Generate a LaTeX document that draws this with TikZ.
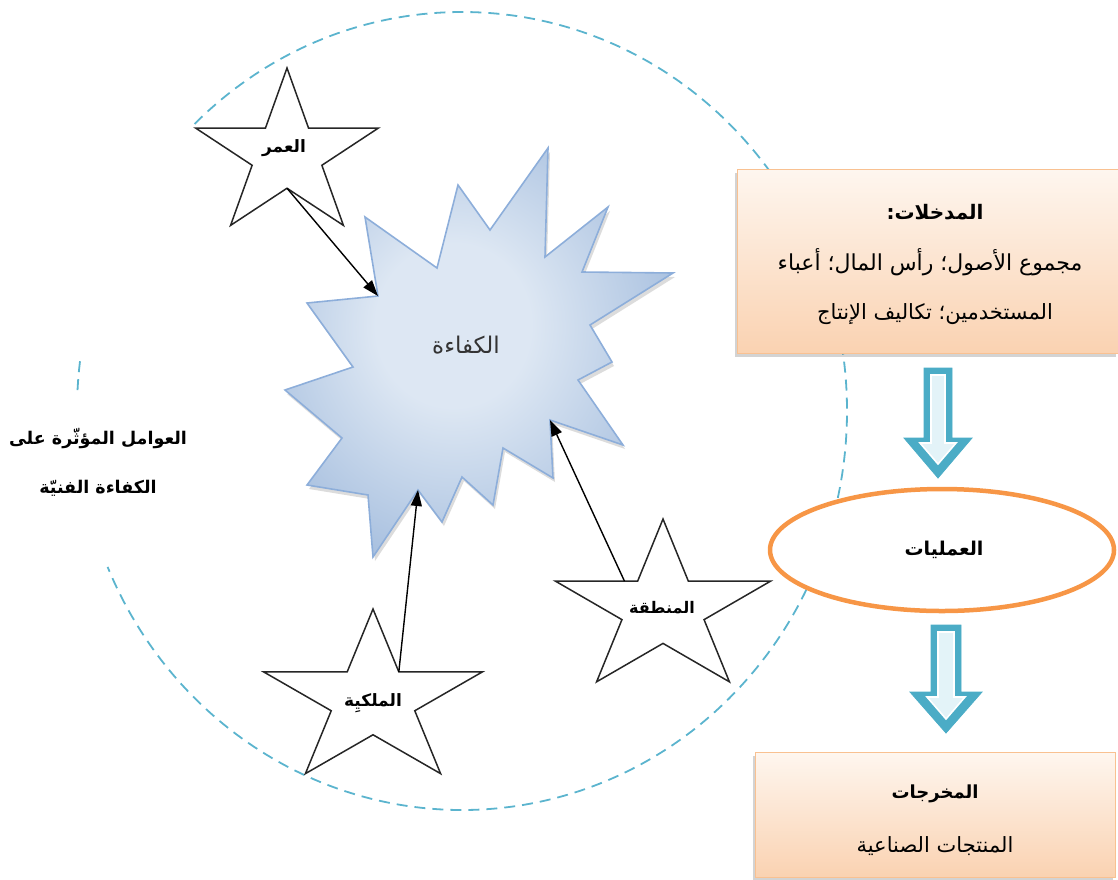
\documentclass[tikz,border=0pt]{standalone}
\usepackage{fontspec}
\usetikzlibrary{arrows.meta,calc,shapes.geometric,shadows}
\newfontfamily\arabicfont[Script=Arabic]{DejaVu Sans}
\TeXXeTstate=1
\newcommand\AR[1]{{\arabicfont\beginR #1\endR}}
\definecolor{tealb}{HTML}{4BACC6}
\definecolor{tealin}{HTML}{E3F3F8}
\definecolor{circc}{HTML}{5BB4CE}
\definecolor{orng}{HTML}{F79646}
\definecolor{boxline}{HTML}{F9C191}
\definecolor{boxtop}{HTML}{FEF6EF}
\definecolor{boxbot}{HTML}{FAD2B1}
\definecolor{burstin}{HTML}{DDE7F3}
\definecolor{burstout}{HTML}{95B2D8}
\definecolor{burstline}{HTML}{8DAEDA}
\pgfdeclareradialshading{burstshade}{\pgfpoint{-4bp}{4bp}}{color(0bp)=(burstin); color(10bp)=(burstin); color(36bp)=(burstout); color(60bp)=(burstout)}
\tikzset{
  circ/.style={draw=circc, line width=1.8pt, dash pattern=on 11pt off 7pt},
  starline/.style={draw=black!85, line width=1.5pt, fill=white, line join=miter},
  link/.style={draw=black, line width=1.4pt, -{Triangle[length=16pt,width=11pt]}},
  boxsty/.style={draw=boxline, line width=1.2pt, top color=boxtop, bottom color=boxbot,
     drop shadow={shadow xshift=-3pt, shadow yshift=-3pt, opacity=0.35}},
  blockarrow/.style={fill=tealb, draw=tealb, line width=0.8pt, line join=miter},
  blockinner/.style={fill=tealin, draw=white, line width=1.6pt, line join=miter},
  lbl/.style={inner sep=0pt, text=black},
  starlbl/.style={lbl, font=\bfseries\fontsize{17}{20}\selectfont},
}
\newcommand\mystar[5]{% name, cx, cy, rx, ry
  \begin{scope}[shift={(#2,#3)}, x=#4pt, y=#5pt]
    \draw[starline] (90:1) -- (126:0.382) coordinate (#1-tl) -- (162:1) coordinate (#1-l)
      -- (198:0.382) -- (234:1) -- (270:0.382) coordinate (#1-b) -- (306:1)
      -- (342:0.382) -- (18:1) -- (54:0.382) coordinate (#1-tr) -- cycle;
  \end{scope}}
\begin{document}
\begin{tikzpicture}[x=1pt,y=-1pt]
\useasboundingbox (0,0) rectangle (1118,879);

% dashed circle
\draw[circ] (462,411) ++(226:385 and 399) arc[start angle=226, end angle=517, x radius=385, y radius=399];
\draw[circ] (462,411) ++(183:385 and 399) arc[start angle=183, end angle=188, x radius=385, y radius=399];

% left label
\node[lbl, align=center, font=\bfseries\fontsize{17.5}{49}\selectfont] (factors) at (98,462)
  {\AR{العوامل المؤثّرة على}\\\AR{الكفاءة الفنيّة}};

% burst
\def\burstpath{(365,217) -- (437,268) -- (458,185) -- (490,230) -- (548,148) -- (545,257)
  -- (608,207) -- (582,272) -- (673,273) -- (590,325) -- (612,362) -- (578,380)
  -- (623,445) -- (550,420) -- (553,478) -- (503,448) -- (493,505) -- (462,477)
  -- (442,522) -- (418,490) -- (373,557) -- (368,495) -- (307,485) -- (342,438)
  -- (285,390) -- (353,367) -- (307,303) -- (378,296) -- cycle}
\fill[black!30, opacity=0.45, shift={(2,4)}] \burstpath;
\path[shading=burstshade, draw=burstline, line width=1.6pt, line join=miter] \burstpath;
\coordinate (b-age) at (378,296);
\coordinate (b-own) at (418,490);
\coordinate (b-reg) at (550,420);
\node[lbl, text=black!80, font=\fontsize{23}{26}\selectfont] (eff) at (466,345) {\AR{الكفاءة}};

% stars
\mystar{age}{287}{155}{96}{87}
\mystar{own}{373}{700}{115}{91}
\mystar{reg}{663}{609}{113}{90}
\node[starlbl] (agel) at (284,148) {\AR{العمر}};
\node[starlbl] (ownl) at (373,703) {\AR{الملكيِة}};
\node[starlbl, font=\bfseries\fontsize{16}{20}\selectfont] (regl) at (662,608) {\AR{المنطقة}};

% connectors
\draw[link] (age-b) -- (b-age);
\draw[link] (own-tr) -- (b-own);
\draw[link] ($(reg-l)!0.84!(reg-tl)$) -- (b-reg);

% input box
\node[boxsty, anchor=north west, minimum width=381pt, minimum height=184pt, inner sep=0pt] (in) at (737,169) {};
\node[lbl, font=\bfseries\fontsize{20}{24}\selectfont] (inT) at (935,212) {\AR{المدخلات:}};
\node[lbl, font=\fontsize{22}{26}\selectfont] (in1) at (930,262) {\AR{مجموع الأصول؛ رأس المال؛ أعباء}};
\node[lbl, font=\fontsize{21}{26}\selectfont] (in2) at (935,314) {\AR{المستخدمين؛ تكاليف الإنتاج}};

% process ellipse
\node[ellipse, draw=orng, line width=4.5pt, fill=white, minimum width=344pt, minimum height=122pt, inner sep=0pt] (proc) at (942,550) {};
\node[lbl, font=\bfseries\fontsize{19}{22}\selectfont] (procT) at (944,550) {\AR{العمليات}};

% output box
\node[boxsty, anchor=north west, minimum width=360pt, minimum height=125pt, inner sep=0pt] (out) at (755,752) {};
\node[lbl, font=\bfseries\fontsize{18}{22}\selectfont] (outT) at (935,794) {\AR{المخرجات}};
\node[lbl, font=\fontsize{21}{24}\selectfont] (out1) at (935,846) {\AR{المنتجات الصناعية}};

% block arrows
\draw[blockarrow] (924,368) -- (952,368) -- (952,438) -- (972,438) -- (938,478) -- (904,438) -- (924,438) -- cycle;
\draw[blockinner] (931,375) -- (945,375) -- (945,443) -- (956,443) -- (938,464) -- (920,443) -- (931,443) -- cycle;
\draw[blockarrow] (931,625) -- (961,625) -- (961,692) -- (982,692) -- (946,733) -- (910,692) -- (931,692) -- cycle;
\draw[blockinner] (938,632) -- (954,632) -- (954,697) -- (965,697) -- (946,719) -- (927,697) -- (938,697) -- cycle;
\end{tikzpicture}
\end{document}
